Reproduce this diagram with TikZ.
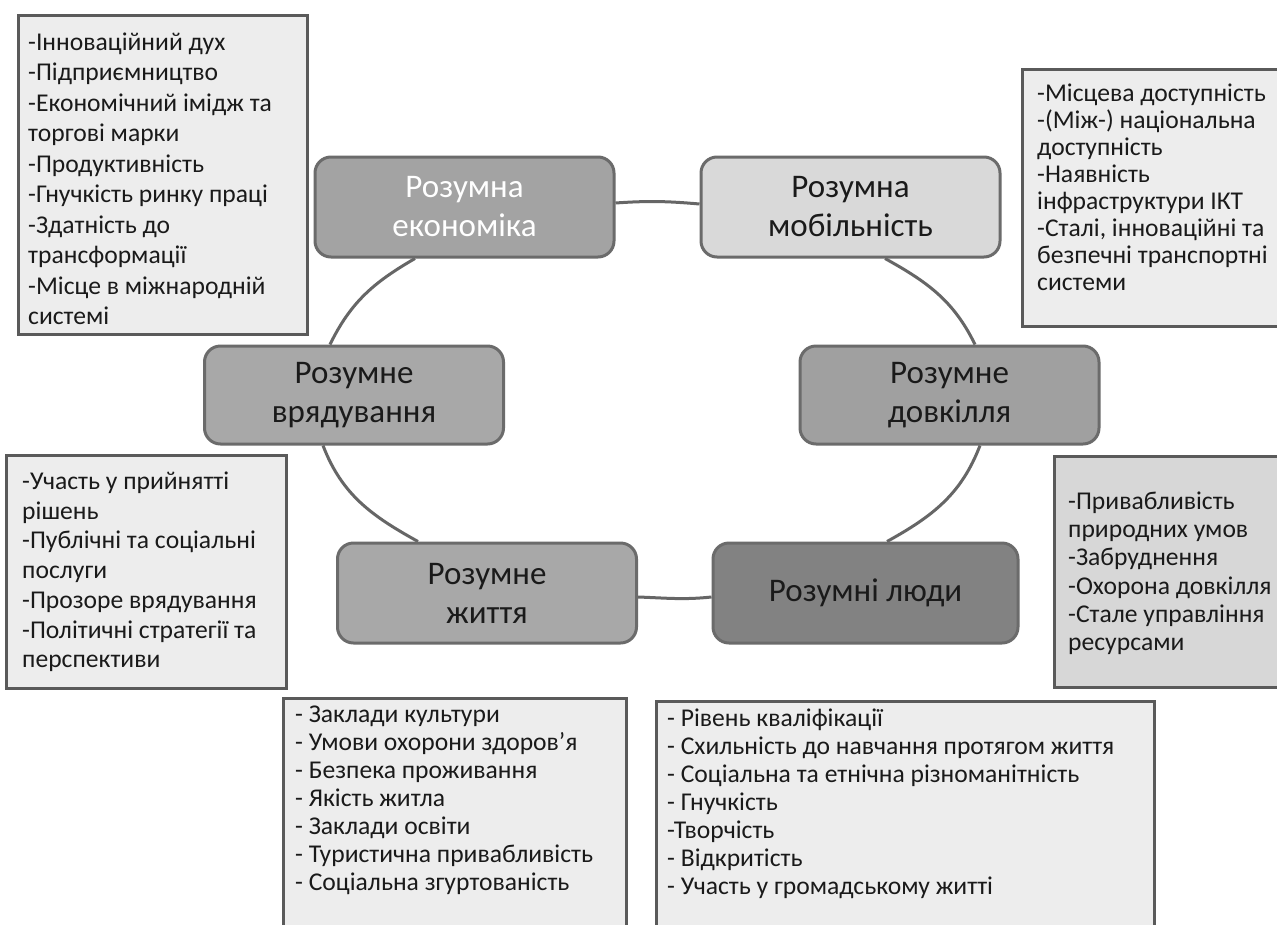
\documentclass[tikz,border=0pt]{standalone}
\usepackage{fontspec}
\setmainfont{Carlito}
\usetikzlibrary{backgrounds}
\definecolor{hubline}{HTML}{6B6B6B}
\definecolor{listline}{HTML}{5A5A5A}
\definecolor{ringcol}{HTML}{666666}
\definecolor{ecofill}{HTML}{A3A3A3}
\definecolor{mobfill}{HTML}{D9D9D9}
\definecolor{govfill}{HTML}{A8A8A8}
\definecolor{envfill}{HTML}{A0A0A0}
\definecolor{livfill}{HTML}{A8A8A8}
\definecolor{pplfill}{HTML}{828282}
\definecolor{listfill}{HTML}{EDEDED}
\definecolor{envlistfill}{HTML}{D7D7D7}
\definecolor{ink}{HTML}{1A1A1A}
\begin{document}
\begin{tikzpicture}[x=1pt,y=-1pt,
  hub/.style={draw=hubline, line width=3pt, rounded corners=16pt,
    minimum width=299pt, minimum height=100pt, align=center, inner sep=0pt,
    text=ink, font=\fontsize{33}{39}\selectfont},
  listbox/.style={draw=listline, line width=3pt, fill=listfill, inner sep=0pt, anchor=north west},
  listtext/.style={align=left, anchor=north west, inner sep=0pt, text=ink},
  ring/.style={draw=ringcol, line width=3pt}
]
\clip (0,0) rectangle (1277,924);

% central ring of six themes
\node[hub, fill=ecofill, text=white] (eco) at (464.5,207) {Розумна\\економіка};
\node[hub, fill=mobfill] (mob) at (850.5,207) {Розумна\\мобільність};
\node[hub, fill=govfill, minimum height=98pt] (gov) at (354,395) {Розумне\\врядування};
\node[hub, fill=envfill, minimum height=98pt] (env) at (949.5,395) {Розумне\\довкілля};
\node[hub, fill=livfill] (liv) at (487,593) {Розумне\\життя};
\node[hub, fill=pplfill, minimum width=305pt] (ppl) at (865.5,593) {Розумні люди};

\begin{pgfonlayer}{background}
  \fill[white] (0,0) rectangle (1277,924);
  \draw[ring] ([yshift=4pt]eco.east) to[out=4,in=175] ([yshift=3pt]mob.west);
  \draw[ring] ([xshift=34.5pt]mob.south) to[out=-29,in=116] ([xshift=25.5pt]env.north);
  \draw[ring] ([xshift=30.5pt]env.south) to[out=-111,in=29] ([xshift=21.5pt]ppl.north);
  \draw[ring] ([yshift=-4pt]ppl.west) to[out=186,in=-2] ([yshift=-4pt]liv.east);
  \draw[ring] ([xshift=-69pt]liv.north) to[out=151,in=-69] ([xshift=-31pt]gov.south);
  \draw[ring] ([xshift=-24pt]gov.north) to[out=64,in=210] ([xshift=-49.5pt]eco.south);
\end{pgfonlayer}

% indicator lists
\node[listbox, minimum width=289pt, minimum height=319pt] (ecobox) at (17,14) {};
\node[listtext, font=\fontsize{25.6}{30.5}\selectfont] (ecotxt)
  at ([xshift=11pt,yshift=-14.6pt]ecobox.north west)
  {\strut-Інноваційний дух\\-Підприємництво\\-Економічний імідж та\\торгові марки\\-Продуктивність\\-Гнучкість ринку праці\\-Здатність до\\трансформації\\-Місце в міжнародній\\системі};

\node[listbox, minimum width=270pt, minimum height=257pt] (mobbox) at (1021,68) {};
\node[listtext, font=\fontsize{25.6}{27}\selectfont] (mobtxt)
  at ([xshift=16pt,yshift=-14.1pt]mobbox.north west)
  {\strut-Місцева доступність\\-(Між-) національна\\доступність\\-Наявність\\інфраструктури ІКТ\\-Сталі, інноваційні та\\безпечні транспортні\\системи};

\node[listbox, minimum width=280pt, minimum height=233pt] (govbox) at (5,454) {};
\node[listtext, font=\fontsize{25.6}{29.7}\selectfont] (govtxt)
  at ([xshift=17pt,yshift=-14.5pt]govbox.north west)
  {\strut-Участь у прийнятті\\рішень\\-Публічні та соціальні\\послуги\\-Прозоре врядування\\-Політичні стратегії та\\перспективи};

\node[listbox, fill=envlistfill, minimum width=240pt, minimum height=231pt] (envbox) at (1053,455) {};
\node[listtext, font=\fontsize{25.6}{28.3}\selectfont] (envtxt)
  at ([xshift=15pt,yshift=-34.2pt]envbox.north west)
  {\strut-Привабливість\\природних умов\\-Забруднення\\-Охорона довкілля\\-Стале управління\\ресурсами};

\node[listbox, minimum width=343pt, minimum height=260pt] (livbox) at (282,697) {};
\node[listtext, font=\fontsize{25.6}{28}\selectfont] (livtxt)
  at ([xshift=13pt,yshift=-5.4pt]livbox.north west)
  {\strut- Заклади культури\\- Умови охорони здоров’я\\- Безпека проживання\\- Якість житла\\- Заклади освіти\\- Туристична привабливість\\- Соціальна згуртованість};

\node[listbox, minimum width=498pt, minimum height=260pt] (pplbox) at (655,700) {};
\node[listtext, font=\fontsize{25.6}{28}\selectfont] (ppltxt)
  at ([xshift=12pt,yshift=-7.1pt]pplbox.north west)
  {\strut- Рівень кваліфікації\\- Схильність до навчання протягом життя\\- Соціальна та етнічна різноманітність\\- Гнучкість\\-Творчість\\- Відкритість\\- Участь у громадському житті};
\end{tikzpicture}
\end{document}
